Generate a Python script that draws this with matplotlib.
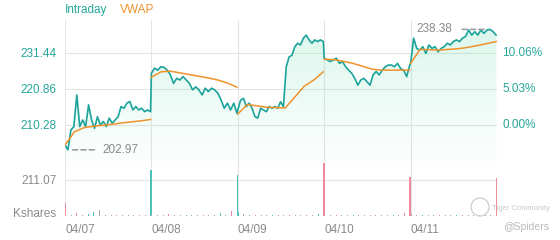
import numpy as np
import matplotlib
matplotlib.use("Agg")
import matplotlib.pyplot as plt
from matplotlib.patches import Polygon, Ellipse

plt.rcParams['font.family'] = ['Liberation Sans', 'DejaVu Sans']

# --- data ---
days = ["04/07", "04/08", "04/09", "04/10", "04/11"]

price_d1 = [204.4, 202.97, 208.8, 209.8, 219.1, 209.8, 211.75, 209.8, 216.2, 211.75,
            209.3, 212.7, 210.3, 211.3, 209.8, 212.3, 210.8, 211.75, 212.7, 215.7,
            215.2, 216.7, 217.2, 214.7, 215.7, 214.7, 215.2, 214.2, 214.7, 214.2]
price_d2 = [225.5, 227.0, 226.4, 227.4, 227.2, 226.4, 225.0, 222.5, 224.0, 223.5,
            224.5, 223.5, 222.5, 220.6, 221.5, 220.6, 219.1, 221.1, 220.1, 221.1,
            220.6, 219.6, 217.6, 215.2, 216.7, 214.7, 216.7, 213.7]
price_d3 = [214.7, 217.6, 218.1, 215.7, 216.7, 215.2, 212.8, 212.3, 215.2, 214.7,
            214.2, 215.7, 215.2, 215.7, 215.2, 217.1, 215.7, 227.4, 230.3, 230.8,
            233.3, 234.3, 233.8, 235.8, 236.7, 235.3, 234.3, 235.3, 234.8, 235.3, 234.8]
price_d4 = [229.9, 229.4, 228.9, 229.4, 229.9, 228.4, 228.9, 227.4, 226.4, 225.5,
            224.0, 222.0, 223.5, 224.0, 223.0, 222.0, 225.0, 226.0, 225.0, 226.4,
            227.4, 227.9, 227.9, 227.4, 228.4, 226.9, 226.4, 224.5, 227.9]
price_d5 = [228.4, 235.8, 232.8, 232.3, 233.3, 231.3, 233.8, 232.8, 233.3, 231.8,
            232.8, 233.3, 234.3, 233.8, 234.8, 235.3, 234.8, 235.8, 236.3, 238.2,
            236.7, 237.7, 236.7, 238.2, 237.2, 238.2, 238.38, 237.7, 236.7]

vwap_d1 = [204.4, 208.3, 209.5, 209.9, 210.2, 210.5, 210.9, 211.2, 211.5, 211.9]
vwap_d2 = [224.3, 225.9, 226.1, 225.6, 225.1, 224.6, 224.1, 223.5, 222.6, 221.4]
vwap_d3 = [213.5, 216.3, 215.9, 215.5, 215.4, 215.3, 218.5, 221.7, 223.5, 225.9]
vwap_d4 = [229.6, 229.5, 229.0, 228.4, 227.6, 226.7, 226.4, 226.4, 226.4, 226.4]
vwap_d5 = [228.4, 232.5, 232.4, 232.3, 232.5, 232.7, 233.1, 233.6, 234.2, 234.8]

# volume in Kshares, last bar of each day is the closing print
vol_d1 = [76, 8, 19, 6, 12, 25, 35, 6, 5, 8, 4, 6, 5, 4, 8, 270]
vol_d2 = [10, 6, 4, 12, 5, 4, 6, 3, 5, 4, 6, 5, 18, 8, 30, 240]
vol_d3 = [25, 10, 8, 6, 5, 4, 6, 8, 5, 4, 6, 4, 5, 6, 12, 309]
vol_d4 = [8, 6, 5, 4, 6, 5, 4, 5, 6, 4, 5, 6, 5, 8, 15, 230]
vol_d5 = [10, 6, 5, 4, 6, 5, 4, 6, 5, 4, 5, 6, 5, 4, 8, 223]
dir_d1 = "dndduunnndnnndnu"
dir_d2 = "nnndnnunndnnundu"
dir_d3 = "unndnnunndnndnud"
dir_d4 = "nndnnunndnnnundd"
dir_d5 = "nnunndnnunnndnnd"

price_ticks = [210.28, 220.86, 231.44]
pct_labels = ["0.00%", "5.03%", "10.06%"]
vol_tick = 211.07

TEAL = "#1ba39b"
TEAL_TXT = "#26a69a"
TEAL_BAR = "#4cc3b8"
ORANGE = "#f0922b"
GRAY = "#8a8a8a"
GRID = "#e4e4e4"
PINK = "#f08a9a"

prices = [price_d1, price_d2, price_d3, price_d4, price_d5]
vwaps = [vwap_d1, vwap_d2, vwap_d3, vwap_d4, vwap_d5]
vols = [vol_d1, vol_d2, vol_d3, vol_d4, vol_d5]
dirs = [dir_d1, dir_d2, dir_d3, dir_d4, dir_d5]

fig = plt.figure(figsize=(5.6, 2.4), dpi=100)
ax = fig.add_axes([65 / 560, 1 - 162 / 240, 432 / 560, 142 / 240])
axv = fig.add_axes([65 / 560, 1 - 216 / 240, 432 / 560, 54 / 240])

ylo, yhi = 199.4, 241.14

# price line (continuous across days)
xs, ys = [], []
for d, p in enumerate(prices):
    xs.append(np.linspace(d, d + 0.99, len(p)))
    ys.append(p)
xs = np.concatenate(xs)
ys = np.concatenate(ys)

# gradient fill under the line
rgba = np.zeros((256, 1, 4))
rgba[..., 0], rgba[..., 1], rgba[..., 2] = 0.55, 0.9, 0.76
rgba[:, 0, 3] = np.linspace(0.32, 0.02, 256)
img = ax.imshow(rgba, extent=[0, 5, ylo, yhi], aspect="auto", origin="upper", zorder=1)
poly = Polygon(np.column_stack([np.r_[xs[0], xs, xs[-1]], np.r_[ylo, ys, ylo]]),
               closed=True, facecolor="none", edgecolor="none")
ax.add_patch(poly)
img.set_clip_path(poly)

ax.plot(xs, ys, color=TEAL, lw=1.2, zorder=3)
for d, v in enumerate(vwaps):
    ax.plot(np.linspace(d, d + 0.99, len(v)), v, color=ORANGE, lw=1.1, zorder=4)

# extremes
imin, imax = np.argmin(ys), np.argmax(ys)
ax.annotate("", xy=(xs[imin], ys[imin]), xytext=(21, 0), textcoords="offset points",
            arrowprops=dict(arrowstyle="-", ls=(0, (3, 2)), color="#9aa0a8", lw=1.2))
ax.annotate(f"{ys[imin]:.2f}", xy=(xs[imin], ys[imin]), xytext=(25, 0),
            textcoords="offset points", va="center", ha="left", fontsize=8.5, color=GRAY)
ax.annotate("", xy=(xs[imax], ys[imax]), xytext=(-22, 0), textcoords="offset points",
            arrowprops=dict(arrowstyle="-", ls=(0, (3, 2)), color="#9aa0a8", lw=1.2))
ax.annotate(f"{ys[imax]:.2f}", xy=(xs[imax], ys[imax]), xytext=(-27, 0),
            textcoords="offset points", va="center", ha="right", fontsize=8.5, color=GRAY)

ax.set_xlim(0, 5)
ax.set_ylim(ylo, yhi)
ax.set_yticks(price_ticks)
ax.set_yticklabels([f"{t:.2f}" for t in price_ticks], color=TEAL_TXT, fontsize=8.5)
ax.set_xticks([])
for y, lab in zip(price_ticks, pct_labels):
    ax.text(1.012, y, lab, transform=ax.get_yaxis_transform(), va="center", ha="left",
            color=TEAL_TXT, fontsize=8.5)
for y in price_ticks:
    ax.axhline(y, color=GRID, lw=0.8, zorder=0)

# volume bars (closing prints a bit wider so they keep their colour)
for d, (v, s) in enumerate(zip(vols, dirs)):
    bx = np.linspace(d + 0.005, d + 0.995, len(v))
    cols = [TEAL_BAR if c == "u" else PINK if c == "d" else "#a8a8a8" for c in s]
    widths = [0.012] * (len(v) - 1) + [0.02]
    axv.bar(bx, v, width=widths, color=cols, zorder=3, linewidth=0)
axv.set_xlim(0, 5)
axv.set_ylim(0, 316.6)
axv.axhline(vol_tick, color=GRID, lw=0.8, zorder=0)
axv.set_yticks([vol_tick])
axv.set_yticklabels([f"{vol_tick:.2f}"], color=GRAY, fontsize=8.5)
axv.set_xticks(range(5))
axv.set_xticklabels(days, color=GRAY, fontsize=8.5, ha="left")
axv.text(-0.02, 10, "Kshares", transform=axv.get_yaxis_transform(), ha="right",
         va="center", color=GRAY, fontsize=8.5)

for a in (ax, axv):
    for sp in a.spines.values():
        sp.set_visible(False)
    a.tick_params(length=0, pad=6)
    for xv in range(6):
        a.axvline(xv, color=GRID, lw=0.8, zorder=0)
axv.axhline(0, color=GRID, lw=0.8, zorder=0)

# legend
fig.text(65 / 560, 1 - 10 / 240, "Intraday", color=TEAL_TXT, fontsize=8.5, va="center")
fig.text(120 / 560, 1 - 10 / 240, "VWAP", color=ORANGE, fontsize=8.5, va="center")

# watermark
fig.patches.append(Ellipse((480 / 560, 1 - 207 / 240), 18 / 560, 18 / 240,
                           transform=fig.transFigure, fill=False,
                           edgecolor="#cfcfcf", lw=0.9))
fig.text(492 / 560, 1 - 209 / 240, "Tiger Community", color="#c8c8c8", fontsize=5.5,
         va="center")
fig.text(549 / 560, 1 - 227 / 240, "@Spiders", color="#bbbbbb", fontsize=7.5,
         va="center", ha="right")

fig.savefig("out.png", dpi=100, facecolor="white")
